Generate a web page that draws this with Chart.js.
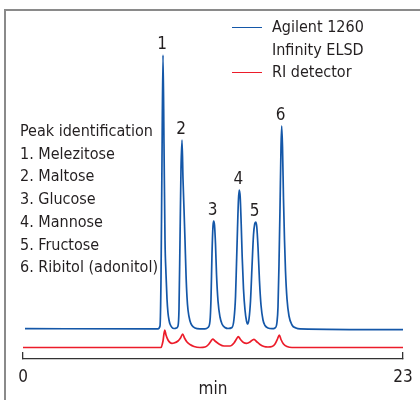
<!DOCTYPE html>
<html>
<head>
<meta charset="utf-8">
<script src="https://cdn.jsdelivr.net/npm/chart.js@4/dist/chart.umd.min.js"></script>
<style>
  html, body { margin: 0; padding: 0; background: #fff; }
  #wrap {
    position: relative; width: 420px; height: 400px; overflow: hidden;
    font-family: "DejaVu Sans Condensed", "Liberation Sans", sans-serif;
    color: #231f20;
  }
  #frame {
    position: absolute; left: 4px; top: 9px; width: 440px; height: 420px;
    border-top: 2px solid #8a8a8a; border-left: 2px solid #8a8a8a;
  }
  canvas { position: absolute; left: 0; top: 0; }
  #legend { position: absolute; left: 232px; top: 16px; font-size: 16px; line-height: 22.5px; }
  .item { display: flex; align-items: flex-start; }
  .swatch { width: 30px; height: 0; margin-top: 10.5px; margin-right: 10px; border-top: 1.5px solid; }
  .name { white-space: pre-line; }
  #peaks { position: absolute; left: 20px; top: 120px; font-size: 16px; line-height: 22.7px; }
</style>
</head>
<body>
<div id="wrap">
  <div id="frame"></div>
  <canvas id="chrom" width="420" height="400"></canvas>
  <div id="legend"></div>
  <div id="peaks"></div>
</div>
<script>
// ELSD trace (min, signal)
const elsdTime = [
  0.121, 8.171, 8.292, 8.353, 8.413, 8.474, 8.534, 8.595, 8.655, 8.716,
  8.776, 8.837, 8.897, 9.018, 9.139, 9.261, 9.382, 9.442, 9.503, 9.563,
  9.624, 9.684, 9.745, 9.805, 9.866, 9.926, 9.987, 10.108, 10.229, 10.410,
  10.713, 11.016, 11.197, 11.318, 11.379, 11.439, 11.500, 11.542, 11.591, 11.651,
  11.712, 11.803, 11.924, 12.045, 12.226, 12.408, 12.650, 12.771, 12.862, 12.922,
  12.983, 13.043, 13.092, 13.146, 13.207, 13.267, 13.346, 13.437, 13.528, 13.600,
  13.679, 13.770, 13.860, 13.951, 14.024, 14.084, 14.145, 14.224, 14.314, 14.405,
  14.526, 14.647, 14.829, 15.071, 15.253, 15.374, 15.434, 15.495, 15.555, 15.616,
  15.658, 15.707, 15.767, 15.828, 15.888, 15.979, 16.100, 16.282, 16.524, 16.766,
  23.0
];
const elsdSignal = [
  30.3, 30.2, 33, 80, 200, 304, 215, 119, 85, 60,
  46, 39, 35, 31.5, 30.5, 30.8, 33, 50, 119, 190,
  219, 180, 150, 119, 85, 62, 49, 38, 33.5, 31,
  30.2, 30.2, 31.5, 38, 60, 105, 133, 138, 134, 115,
  85, 58, 42, 35, 31.5, 30.5, 31.5, 40, 62, 95,
  130, 160, 169, 162, 135, 102, 70, 49, 38, 35,
  40, 58, 92, 124, 135, 137, 133, 112, 78, 54,
  39, 33.5, 31, 30.3, 31, 37, 52, 95, 150, 212,
  233, 212, 160, 119, 88, 60, 43, 34, 31, 30.2,
  29.4
];

// RI trace (min, signal)
const riTime = [
  0, 8.353, 8.474, 8.577, 8.655, 8.776, 8.897, 9.018, 9.139, 9.382,
  9.533, 9.666, 9.775, 9.926, 10.108, 10.350, 10.713, 11.016, 11.197, 11.379,
  11.482, 11.621, 11.863, 12.166, 12.529, 12.771, 12.922, 13.031, 13.164, 13.346,
  13.540, 13.739, 13.891, 13.982, 14.133, 14.345, 14.587, 14.829, 15.071, 15.253,
  15.404, 15.513, 15.616, 15.767, 15.979, 16.282, 23
];
const riSignal = [
  11.5, 11.6, 18, 29, 24, 19, 16.5, 15.7, 16, 18,
  21, 25, 21, 17, 14.5, 12.5, 11.5, 12, 14, 18,
  20, 18, 15, 13, 13, 16, 20, 22.3, 19.5, 16.5,
  15.7, 17, 19, 19.7, 17.5, 14.5, 12.5, 12, 12.5, 15,
  20, 24, 19.5, 15, 12.5, 11.5, 11.5
];

const seriesNames = ["Agilent 1260\nInfinity ELSD", "RI detector"];
const seriesColors = ["#1457a8", "#ec1c2a"];

const peakNumbers = ["1", "2", "3", "4", "5", "6"];
const peakTimes = [8.474, 9.624, 11.542, 13.092, 14.084, 15.658];
const peakTops = [304, 219, 138, 169, 137, 233];
const compounds = ["Melezitose", "Maltose", "Glucose", "Mannose", "Fructose", "Ribitol (adonitol)"];

const xTicks = [0, 23];
const xTitle = "min";

const FONT = '"DejaVu Sans Condensed", "Liberation Sans", sans-serif';
const TEXT = "#231f20";

// legend + peak list as html
const legendEl = document.getElementById("legend");
seriesNames.forEach((name, i) => {
  const item = document.createElement("div");
  item.className = "item";
  const sw = document.createElement("div");
  sw.className = "swatch";
  sw.style.borderTopColor = seriesColors[i];
  const txt = document.createElement("div");
  txt.className = "name";
  txt.textContent = name;
  item.appendChild(sw);
  item.appendChild(txt);
  legendEl.appendChild(item);
});

const peaksEl = document.getElementById("peaks");
const head = document.createElement("div");
head.textContent = "Peak identification";
peaksEl.appendChild(head);
compounds.forEach((c, i) => {
  const d = document.createElement("div");
  d.textContent = peakNumbers[i] + ". " + c;
  peaksEl.appendChild(d);
});

// peak numbers above each maximum
const peakLabels = {
  id: "peakLabels",
  afterDatasetsDraw(chart) {
    const { ctx, scales: { x, y } } = chart;
    ctx.save();
    ctx.font = "17px " + FONT;
    ctx.fillStyle = TEXT;
    ctx.textAlign = "center";
    ctx.textBaseline = "alphabetic";
    peakNumbers.forEach((n, i) => {
      ctx.fillText(n, x.getPixelForValue(peakTimes[i]) - 1, y.getPixelForValue(peakTops[i]) - 6);
    });
    ctx.restore();
  }
};

const toPoints = (t, s) => t.map((v, i) => ({ x: v, y: s[i] }));

new Chart(document.getElementById("chrom"), {
  type: "line",
  data: {
    datasets: [
      { label: seriesNames[0], data: toPoints(elsdTime, elsdSignal), borderColor: seriesColors[0] },
      { label: seriesNames[1], data: toPoints(riTime, riSignal), borderColor: seriesColors[1] }
    ]
  },
  options: {
    responsive: false,
    animation: false,
    devicePixelRatio: 1,
    layout: { autoPadding: false, padding: { left: 23, right: 17, top: 19, bottom: 0 } },
    elements: {
      point: { radius: 0 },
      line: { borderWidth: 1.7, cubicInterpolationMode: "monotone", fill: false }
    },
    plugins: { legend: { display: false }, tooltip: { enabled: false } },
    scales: {
      x: {
        type: "linear",
        min: 0,
        max: 23,
        border: { color: "#333", width: 1.3 },
        grid: { drawOnChartArea: false, tickLength: -7, color: "#333", lineWidth: 1.3 },
        // small padding keeps the "23" overhang inside the right margin; the tall line height pushes labels down
        ticks: { font: { family: FONT, size: 17, lineHeight: 2.2 }, color: TEXT, padding: 7, maxRotation: 0, autoSkip: false },
        afterBuildTicks: (s) => { s.ticks = xTicks.map(v => ({ value: v })); },
        afterFit: (s) => { s.height = 41; },
        title: { display: true, text: xTitle, font: { family: FONT, size: 17 }, color: TEXT, padding: { top: 0, bottom: 0 } }
      },
      y: { display: false, min: 0, max: 340 }
    }
  },
  plugins: [peakLabels]
});
</script>
</body>
</html>
